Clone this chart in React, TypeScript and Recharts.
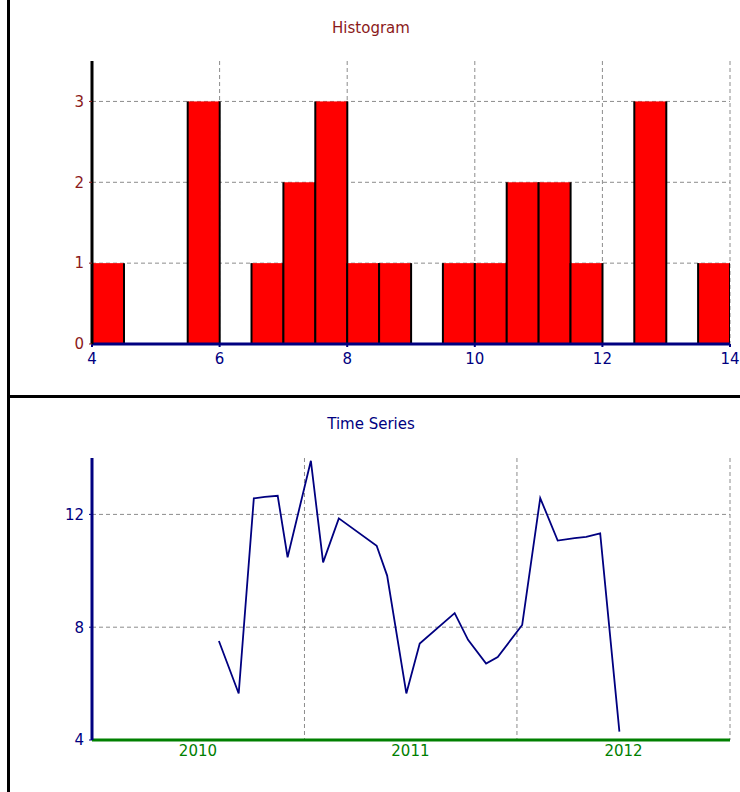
import React from 'react';
import {
  ComposedChart,
  Bar,
  Line,
  XAxis,
  YAxis,
  CartesianGrid,
} from 'recharts';

// histogram: bins of width 0.5 from 4 to 14
const binStarts = [4, 4.5, 5, 5.5, 6, 6.5, 7, 7.5, 8, 8.5, 9, 9.5, 10, 10.5, 11, 11.5, 12, 12.5, 13, 13.5];
const binCounts = [1, 0, 0, 3, 0, 1, 2, 3, 1, 1, 0, 1, 1, 2, 2, 1, 0, 3, 0, 1];
const binWidth = 0.5;
const histTicksX = [4, 6, 8, 10, 12, 14];
const histTicksY = [0, 1, 2, 3];

// time series
const tsDates = [
  '2010-08-07', '2010-09-10', '2010-10-06', '2010-10-25', '2010-11-16', '2010-12-03',
  '2011-01-12', '2011-02-02', '2011-03-01', '2011-05-05', '2011-05-23', '2011-06-25',
  '2011-07-18', '2011-09-16', '2011-10-09', '2011-11-09', '2011-11-29', '2012-01-10',
  '2012-02-10', '2012-03-11', '2012-04-09', '2012-04-29', '2012-05-23', '2012-06-25',
];
const tsValues = [
  7.51, 5.65, 12.57, 12.62, 12.66, 10.48,
  13.9, 10.3, 11.86, 10.89, 9.83, 5.65,
  7.42, 8.5, 7.55, 6.71, 6.94, 8.08,
  12.58, 11.07, 11.16, 11.2, 11.33, 4.3,
];
const years = [2010, 2011, 2012];
const tsTicksY = [4, 8, 12];

const histData = binStarts.map((s, i) => ({ mid: s + binWidth / 2, count: binCounts[i] }));
const tsData = tsDates.map((d, i) => ({ t: Date.parse(d), v: tsValues[i] }));
const yearMid = years.map((y) => Date.UTC(y, 6, 2));
const yearEnd = years.map((y) => Date.UTC(y + 1, 0, 1));

const FONT = 'DejaVu Sans';
const DARKRED = '#8B1A1A';
const NAVY = '#000080';
const GREEN = '#008000';
const GRID = '#8c8c8c';

const HistBar = (props: any) => {
  const { x, y, width, height } = props;
  if (!height || height <= 0) return null;
  return (
    <g>
      <rect x={x} y={y} width={width} height={height} fill="#ff0000" />
      <line x1={x} x2={x} y1={y} y2={y + height} stroke="#000" strokeWidth={2} />
      <line x1={x + width} x2={x + width} y1={y} y2={y + height} stroke="#000" strokeWidth={2} />
    </g>
  );
};

const App = () => {
  return (
    <div
      style={{
        position: 'absolute',
        left: 0,
        top: 0,
        width: 740,
        height: 792,
        background: '#fff',
        fontFamily: FONT,
        overflow: 'hidden',
      }}
    >
      <div style={{ position: 'absolute', left: 0, top: 0 }}>
        <ComposedChart
          width={740}
          height={395}
          data={histData}
          barCategoryGap={0}
          barGap={0}
          margin={{ top: 61, right: 10, left: 0, bottom: 0 }}
        >
          <CartesianGrid
            stroke={GRID}
            strokeDasharray="4 3"
            horizontalValues={[1, 2, 3]}
            verticalValues={[6, 8, 10, 12, 14]}
          />
          <XAxis
            type="number"
            dataKey="mid"
            domain={[4, 14]}
            allowDataOverflow
            ticks={histTicksX}
            height={51}
            axisLine={{ stroke: NAVY, strokeWidth: 3 }}
            tickLine={{ stroke: NAVY, strokeWidth: 2 }}
            tickSize={3}
            tickMargin={6}
            tick={{ fill: NAVY, fontSize: 15, fontFamily: FONT }}
          />
          <YAxis
            domain={[0, 3.5]}
            ticks={histTicksY}
            width={92}
            axisLine={{ stroke: '#000', strokeWidth: 3 }}
            tickLine={{ stroke: DARKRED, strokeWidth: 1 }}
            tickSize={3}
            tickMargin={5}
            tick={{ fill: DARKRED, fontSize: 15, fontFamily: FONT }}
          />
          <Bar dataKey="count" shape={HistBar} isAnimationActive={false} />
        </ComposedChart>
      </div>

      <div style={{ position: 'absolute', left: 0, top: 398 }}>
        <ComposedChart
          width={740}
          height={394}
          data={tsData}
          margin={{ top: 60, right: 10, left: 0, bottom: 0 }}
        >
          <CartesianGrid
            stroke={GRID}
            strokeDasharray="4 3"
            horizontalValues={[8, 12]}
            verticalValues={yearEnd}
          />
          <XAxis
            type="number"
            dataKey="t"
            domain={[Date.UTC(2010, 0, 1), Date.UTC(2013, 0, 1)]}
            allowDataOverflow
            ticks={yearMid}
            tickFormatter={(v: number) => String(new Date(v).getUTCFullYear())}
            height={52}
            axisLine={{ stroke: GREEN, strokeWidth: 3 }}
            tickLine={false}
            tickSize={0}
            tickMargin={5}
            tick={{ fill: GREEN, fontSize: 15, fontFamily: FONT }}
          />
          <YAxis
            domain={[4, 14]}
            ticks={tsTicksY}
            width={92}
            axisLine={{ stroke: NAVY, strokeWidth: 3 }}
            tickLine={{ stroke: NAVY, strokeWidth: 1 }}
            tickSize={3}
            tickMargin={5}
            tick={{ fill: NAVY, fontSize: 15, fontFamily: FONT }}
          />
          <Line
            type="linear"
            dataKey="v"
            stroke={NAVY}
            strokeWidth={1.8}
            dot={false}
            isAnimationActive={false}
          />
        </ComposedChart>
      </div>

      <svg
        width={740}
        height={792}
        style={{ position: 'absolute', left: 0, top: 0, pointerEvents: 'none' }}
      >
        <text x={371} y={33} textAnchor="middle" fill={DARKRED} fontSize={15} fontFamily={FONT}>
          Histogram
        </text>
        <text x={371} y={429} textAnchor="middle" fill={NAVY} fontSize={15} fontFamily={FONT}>
          Time Series
        </text>
        <rect x={7} y={0} width={3} height={792} fill="#000" />
        <rect x={7} y={395} width={733} height={3} fill="#000" />
      </svg>
    </div>
  );
};

export default App;
